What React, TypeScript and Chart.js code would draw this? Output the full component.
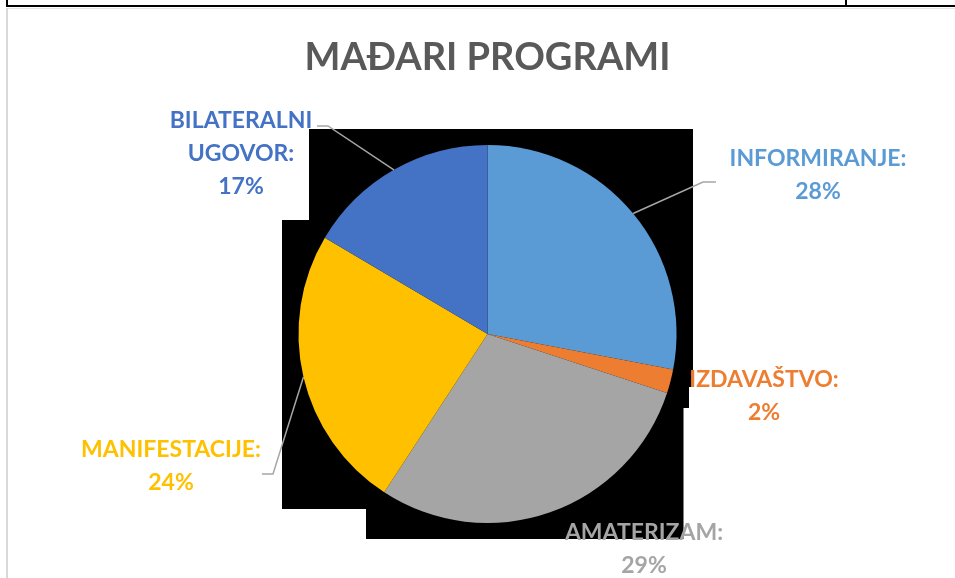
import React, { useEffect, useRef } from "react";
import { Chart, registerables } from "chart.js";

Chart.register(...registerables);

const chartTitle = "MAĐARI PROGRAMI";
const categories = ["INFORMIRANJE", "IZDAVAŠTVO", "AMATERIZAM", "MANIFESTACIJE", "BILATERALNI UGOVOR"];
const values = [28.0, 2.05, 29.15, 24.3, 16.5];
const percentLabels = ["28%", "2%", "29%", "24%", "17%"];
const colors = ["#5B9BD5", "#ED7D31", "#A5A5A5", "#FFC000", "#4472C4"];

// layout: offsets from pie centre, in px for a reference radius of 189
const REF_R = 189;
const labelPos: [number, number][] = [
  [330.5, -176.5],
  [276.5, 44.5],
  [156.5, 197.5],
  [-316.5, 115],
  [-246.5, -214.5],
];
const leaders: ([number, number][] | null)[] = [
  [[215.5, -152], [228.5, -152]],
  null,
  null,
  [[-214.5, 140], [-225.5, 140]],
  [[-159.5, -208], [-170.5, -208]],
];
const LABEL_FONT = "bold 23px Lato";
const LINE_H = 33;

function labelLines(name: string, pct: string): string[] {
  const words = name.split(" ");
  if (words.length > 1) {
    const lines = words.slice();
    lines[lines.length - 1] = lines[lines.length - 1] + ":";
    return [...lines, pct];
  }
  return [name + ":", pct];
}

const decorPlugin = {
  id: "decor",
  beforeDatasetsDraw(chart: any) {
    const meta = chart.getDatasetMeta(0);
    const arc = meta.data[0];
    if (!arc) return;
    const cx = arc.x, cy = arc.y, R = arc.outerRadius;
    const s = R / REF_R;
    const ctx = chart.ctx;
    ctx.save();
    // dark plot-area backdrop as in the reference
    const L = cx - 205.5 * s, Rr = cx + 205.5 * s, T = cy - 205 * s, B = cy + 205 * s;
    ctx.fillStyle = "#000000";
    ctx.beginPath();
    ctx.moveTo(L + 27 * s, T);
    ctx.lineTo(Rr, T);
    ctx.lineTo(Rr, cy + 53 * s);
    ctx.lineTo(cx + 201.5 * s, cy + 53 * s);
    ctx.lineTo(cx + 201.5 * s, cy + 74 * s);
    ctx.lineTo(cx + 196 * s, cy + 74 * s);
    ctx.lineTo(cx + 196 * s, B);
    ctx.lineTo(cx - 121.5 * s, B);
    ctx.lineTo(cx - 121.5 * s, cy + 175 * s);
    ctx.lineTo(L, cy + 175 * s);
    ctx.lineTo(L, cy - 114 * s);
    ctx.lineTo(L + 27 * s, cy - 114 * s);
    ctx.closePath();
    ctx.fill();
    // title
    ctx.fillStyle = "#595959";
    ctx.font = "bold 38px Lato";
    ctx.textAlign = "center";
    ctx.textBaseline = "alphabetic";
    ctx.fillText(chartTitle, cx, 70);
    ctx.restore();
  },
  afterDatasetsDraw(chart: any) {
    const meta = chart.getDatasetMeta(0);
    const ctx = chart.ctx;
    ctx.save();
    meta.data.forEach((arc: any, i: number) => {
      const cx = arc.x, cy = arc.y, R = arc.outerRadius;
      const s = R / REF_R;
      const mid = (arc.startAngle + arc.endAngle) / 2;
      const ld = leaders[i];
      if (ld) {
        ctx.strokeStyle = "#A6A6A6";
        ctx.lineWidth = 1.5;
        ctx.beginPath();
        ctx.moveTo(cx + R * Math.cos(mid), cy + R * Math.sin(mid));
        ld.forEach(([dx, dy]) => ctx.lineTo(cx + dx * s, cy + dy * s));
        ctx.stroke();
      }
      const lines = labelLines(categories[i], percentLabels[i]);
      const [lx, ly] = labelPos[i];
      ctx.fillStyle = colors[i];
      ctx.font = LABEL_FONT;
      ctx.textAlign = "center";
      ctx.textBaseline = "alphabetic";
      lines.forEach((t, k) => {
        ctx.fillText(t, cx + lx * s, cy + ly * s + k * LINE_H + 8.2);
      });
    });
    ctx.restore();
  },
};

export default function App() {
  const ref = useRef<HTMLCanvasElement | null>(null);
  useEffect(() => {
    if (!ref.current) return;
    const chart = new Chart(ref.current, {
      type: "pie",
      data: {
        labels: categories,
        datasets: [
          {
            data: values,
            backgroundColor: colors,
            borderWidth: 0,
          },
        ],
      },
      options: {
        animation: false,
        responsive: false,
        devicePixelRatio: 1,
        layout: { padding: { left: 298.5, right: 278.5, top: 145, bottom: 55 } },
        plugins: {
          legend: { display: false },
          title: { display: false },
          tooltip: { enabled: false },
        },
      },
      plugins: [decorPlugin],
    });
    if ((document as any).fonts) {
      Promise.all([
        (document as any).fonts.load("bold 23px Lato"),
        (document as any).fonts.load("bold 38px Lato"),
      ]).then(() => chart.draw()).catch(() => {});
    }
    return () => chart.destroy();
  }, []);
  return (
    <div style={{ position: "fixed", left: 0, top: 0, width: 955, height: 578, background: "#ffffff", overflow: "hidden" }}>
      <canvas ref={ref} width={955} height={578} style={{ position: "absolute", left: 0, top: 0, display: "block" }} />
      <div style={{ position: "absolute", left: 6, top: 0, width: 2, height: 7, background: "#000" }} />
      <div style={{ position: "absolute", left: 845, top: 0, width: 2, height: 7, background: "#000" }} />
      <div style={{ position: "absolute", left: 6, top: 5, width: 949, height: 2, background: "#000" }} />
      <div style={{ position: "absolute", left: 6, top: 8, width: 949, height: 1, background: "#E6E6E6" }} />
      <div style={{ position: "absolute", left: 6, top: 8, width: 2, height: 570, background: "#D9D9D9" }} />
    </div>
  );
}
